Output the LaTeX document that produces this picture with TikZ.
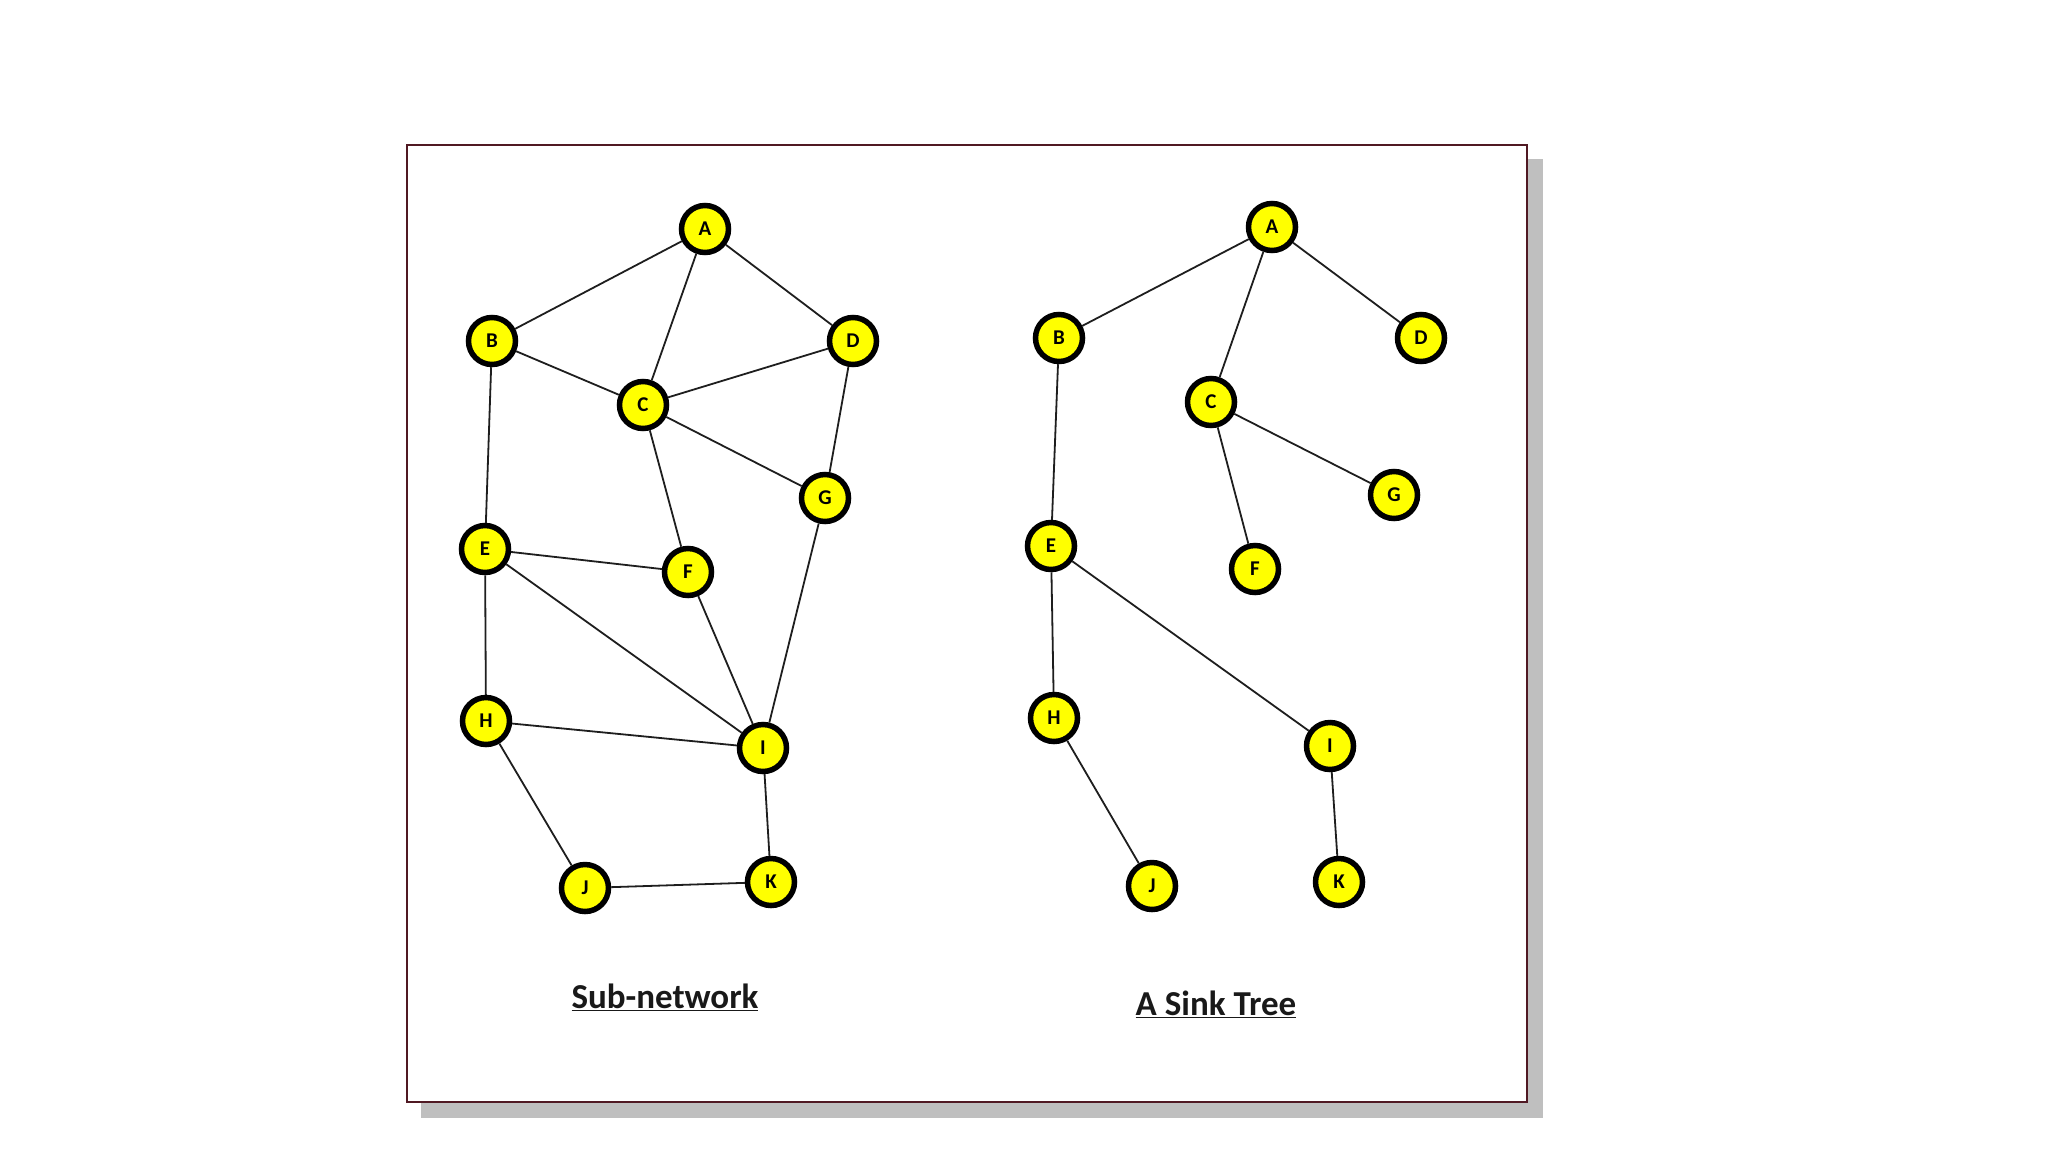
\documentclass[tikz,border=0pt]{standalone}
\usepackage{fontspec}
\setmainfont{Carlito}
\begin{document}
\begin{tikzpicture}[x=1pt,y=-1pt,
  vtx/.style={circle,draw=black,line width=5.5pt,fill={rgb,255:red,255;green,255;blue,0},minimum size=47pt,inner sep=0pt,font=\fontsize{21}{21}\selectfont\bfseries},
  edge/.style={draw={rgb,255:red,30;green,30;blue,30},line width=1.8pt},
  caption/.style={font=\fontsize{35}{35}\selectfont\bfseries,text={rgb,255:red,25;green,25;blue,25}}]
\useasboundingbox (0,0) rectangle (2048,1152);
\fill[white] (0,0) rectangle (2048,1152);
% shadow and frame
\fill[gray!50] (421,159) rectangle (1543,1118);
\draw[fill=white,line width=2.2pt,draw={rgb,255:red,80;green,25;blue,35}] (407,145) rectangle (1527,1102);
% left graph nodes
\node[vtx] (A1) at (705,229) {A};
\node[vtx] (B1) at (492,341) {B};
\node[vtx] (D1) at (853,341) {D};
\node[vtx] (C1) at (643,405) {C};
\node[vtx] (G1) at (825,498) {G};
\node[vtx] (E1) at (485,549) {E};
\node[vtx] (F1) at (688,572) {F};
\node[vtx] (H1) at (486,721) {H};
\node[vtx] (I1) at (763,748) {I};
\node[vtx] (J1) at (585,888) {J};
\node[vtx] (K1) at (771,882) {K};
% right graph nodes
\node[vtx] (A2) at (1272,227) {A};
\node[vtx] (B2) at (1059,338) {B};
\node[vtx] (D2) at (1421,338) {D};
\node[vtx] (C2) at (1211,402) {C};
\node[vtx] (G2) at (1394,495) {G};
\node[vtx] (E2) at (1051,546) {E};
\node[vtx] (F2) at (1255,569) {F};
\node[vtx] (H2) at (1054,718) {H};
\node[vtx] (I2) at (1330,746) {I};
\node[vtx] (J2) at (1152,886) {J};
\node[vtx] (K2) at (1339,882) {K};
% left edges
\foreach \a/\b in {A1/B1,A1/C1,A1/D1,B1/C1,B1/E1,C1/D1,C1/G1,C1/F1,D1/G1,G1/I1,E1/F1,E1/I1,E1/H1,F1/I1,H1/I1,H1/J1,J1/K1,I1/K1}
  \path[edge] (\a) -- (\b);
% right edges
\foreach \a/\b in {A2/B2,A2/C2,A2/D2,B2/E2,C2/G2,C2/F2,E2/H2,E2/I2,H2/J2,I2/K2}
  \path[edge] (\a) -- (\b);
% captions
\node[caption] (cap1) at (665,997) {\underline{Sub-network}};
\node[caption] (cap2) at (1216,1004) {\underline{A Sink Tree}};
\end{tikzpicture}
\end{document}
